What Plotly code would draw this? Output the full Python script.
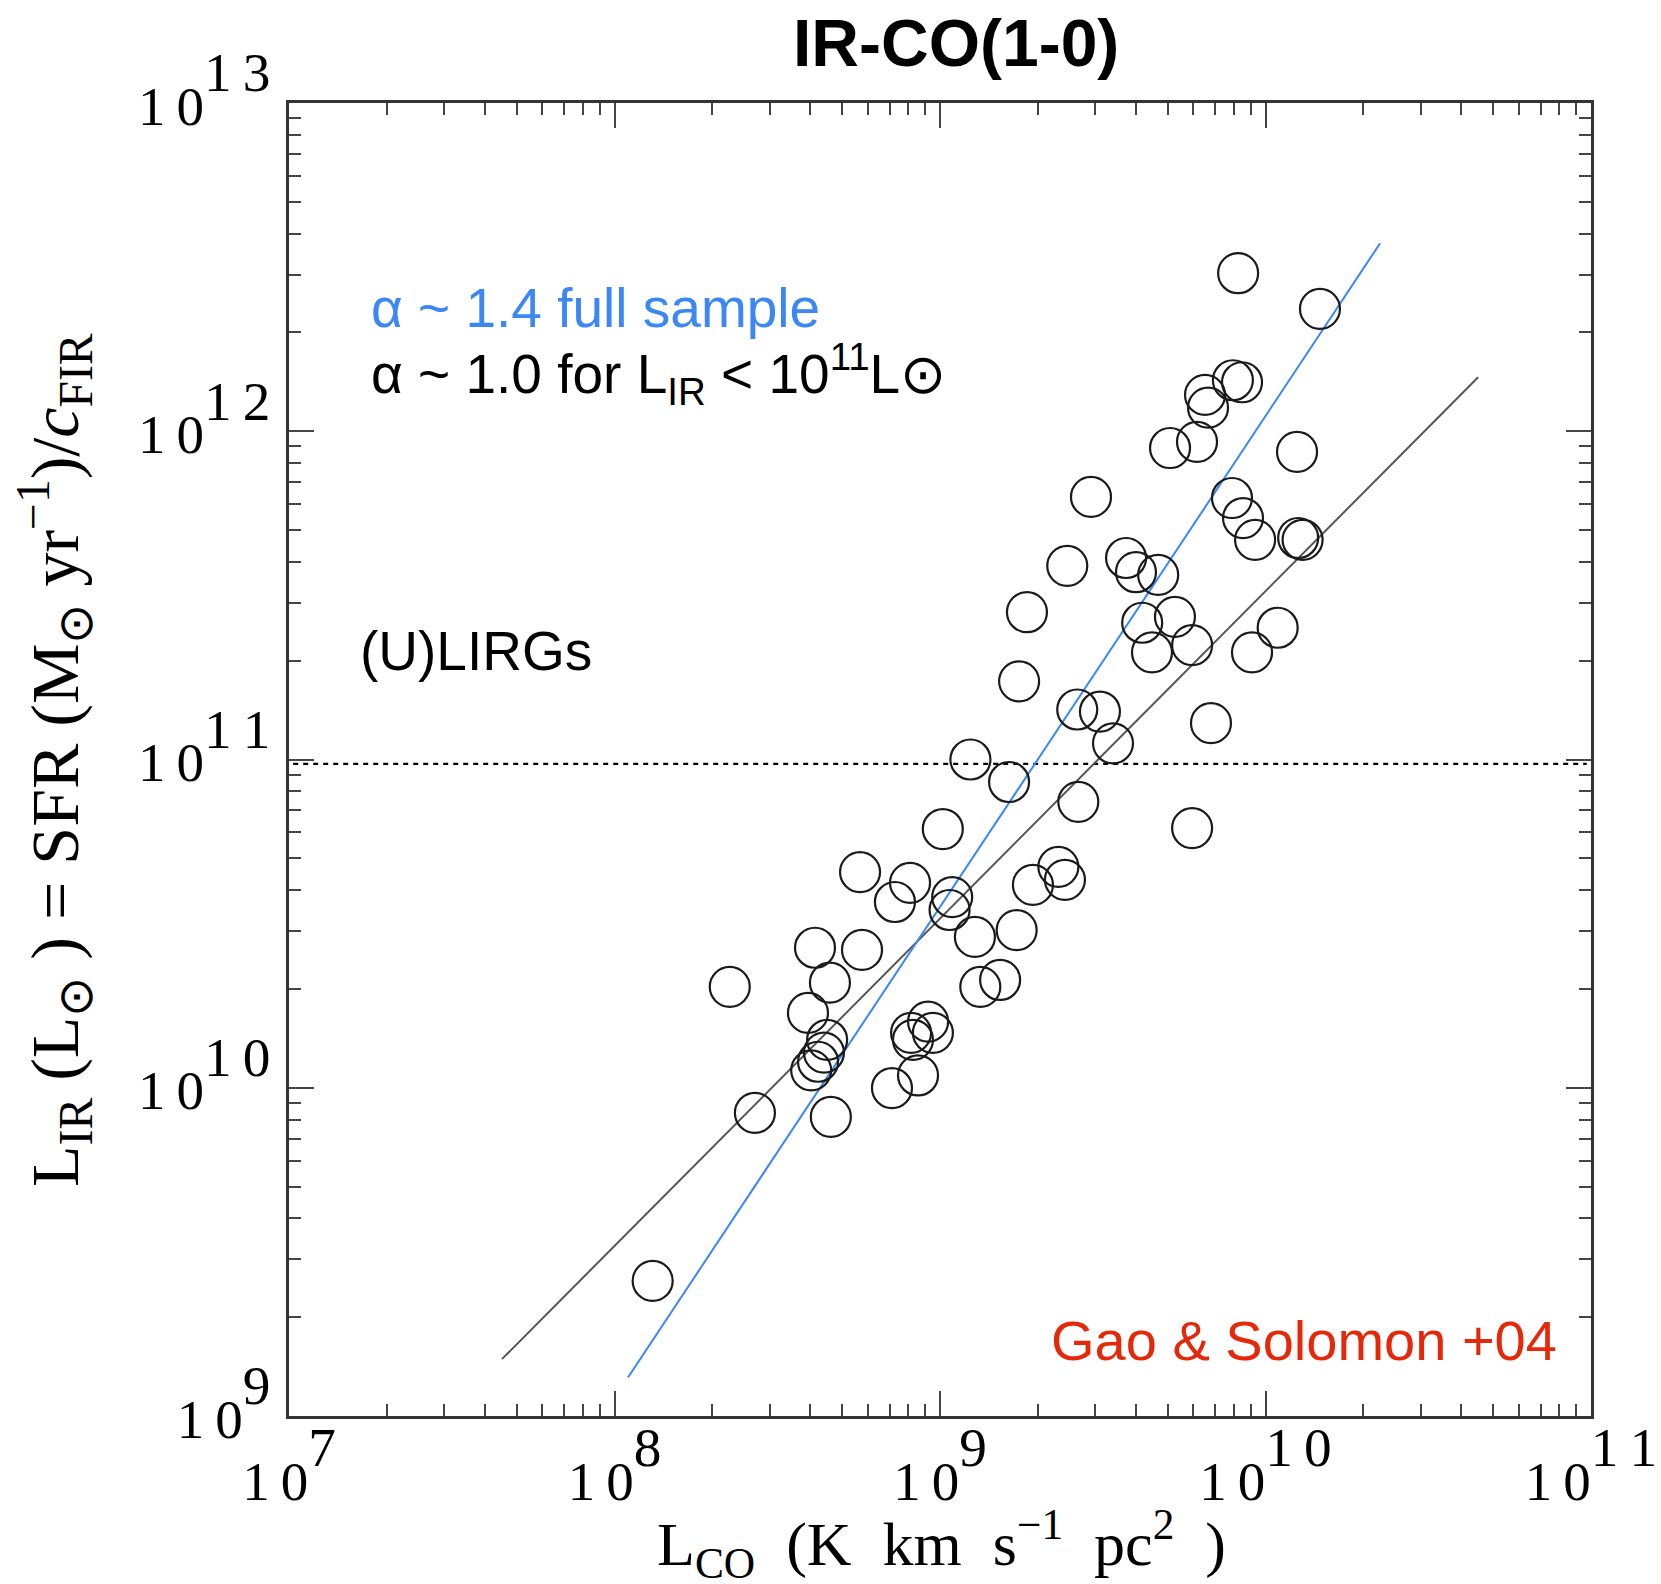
import plotly.graph_objects as go

# ---- data ----
lco = [8.24e9, 1.47e10, 6.52e9, 7.94e9, 8.47e9, 6.66e9, 5.09e9, 6.16e9, 1.25e10, 2.91e9,
       7.89e9, 8.53e9, 9.29e9, 1.26e10, 1.30e10, 2.46e9, 3.73e9, 4.00e9, 4.68e9, 1.85e9,
       4.18e9, 5.27e9, 4.48e9, 5.95e9, 1.09e10, 9.09e9, 1.75e9, 2.64e9, 3.10e9, 3.40e9,
       6.80e9, 1.24e9, 1.63e9, 2.66e9, 1.02e9, 5.95e9, 5.68e8, 8.09e8, 7.27e8, 1.09e9,
       1.07e9, 1.93e9, 2.31e9, 2.42e9, 1.28e9, 1.72e9, 4.13e8, 5.76e8, 2.26e8, 4.59e8,
       1.33e9, 1.53e9, 3.93e8, 4.50e8, 4.40e8, 4.22e8, 4.02e8, 8.15e8, 8.26e8, 9.19e8,
       9.51e8, 7.12e8, 8.56e8, 2.70e8, 4.62e8, 1.31e8]
lir = [3.03e12, 2.36e12, 1.29e12, 1.43e12, 1.41e12, 1.18e12, 8.89e11, 9.28e11, 8.65e11, 6.31e11,
       6.26e11, 5.44e11, 4.67e11, 4.73e11, 4.67e11, 3.89e11, 4.11e11, 3.72e11, 3.65e11, 2.81e11,
       2.61e11, 2.72e11, 2.12e11, 2.23e11, 2.52e11, 2.12e11, 1.73e11, 1.42e11, 1.40e11, 1.12e11,
       1.29e11, 1.00e11, 8.54e10, 7.43e10, 6.14e10, 6.18e10, 4.54e10, 4.21e10, 3.68e10, 3.81e10,
       3.48e10, 4.15e10, 4.71e10, 4.30e10, 2.88e10, 3.02e10, 2.67e10, 2.63e10, 2.03e10, 2.09e10,
       2.03e10, 2.13e10, 1.69e10, 1.40e10, 1.28e10, 1.20e10, 1.13e10, 1.47e10, 1.40e10, 1.59e10,
       1.47e10, 9.98e9, 1.09e10, 8.38e9, 8.15e9, 2.58e9]

fit10_x = [4.51e7, 4.50e10]
fit10_y = [1.49e9, 1.46e12]
fit14_x = [1.10e8, 2.25e10]
fit14_y = [1.31e9, 3.74e12]
ulirg_x = [1.03e7, 9.7e10]
ulirg_y = [9.7e10, 9.7e10]

x_exps = [7, 8, 9, 10, 11]
y_exps = [9, 10, 11, 12, 13]

BLUE = "rgb(58,135,245)"
RED = "rgb(230,40,10)"
BASE = 55           # size of "10" in tick labels
TICKFONT = 79       # sup is drawn at 70% of this -> same size as the base
THIN = "\u2009"


def spaced(s):
    return THIN.join(list(str(s)))


def tick_text(e):
    return f"<span style='font-size:{BASE}px'>{spaced(10)}</span><sup>{spaced(e)}</sup>"


fig = go.Figure()
fig.add_trace(go.Scatter(x=ulirg_x, y=ulirg_y, mode="lines",
                         line=dict(color="black", width=2.2, dash="5px,5px"), hoverinfo="skip"))
fig.add_trace(go.Scatter(x=fit10_x, y=fit10_y, mode="lines",
                         line=dict(color="#555555", width=2)))
fig.add_trace(go.Scatter(x=fit14_x, y=fit14_y, mode="lines",
                         line=dict(color=BLUE, width=2)))
fig.add_trace(go.Scatter(x=lco, y=lir, mode="markers",
                         marker=dict(symbol="circle-open", size=40, color="#1a1a1a",
                                     line=dict(width=2.2, color="#1a1a1a"))))

axis_common = dict(
    type="log", showgrid=False, zeroline=False, showline=True, mirror="allticks",
    linecolor="#333333", linewidth=2.5, automargin=False,
    ticks="inside", ticklen=25, tickwidth=2, tickcolor="#444444",
    minor=dict(ticks="inside", ticklen=12, tickwidth=2, tickcolor="#444444",
               dtick="D1", showgrid=False),
    tickfont=dict(family="Liberation Serif", size=TICKFONT, color="black"),
    tickmode="array",
)

fig.update_xaxes(**axis_common, range=[7, 11],
                 tickvals=[10.0 ** e for e in x_exps],
                 ticktext=[tick_text(e) for e in x_exps],
                 ticklabelstandoff=-14)
fig.update_yaxes(**axis_common, range=[9, 13],
                 tickvals=[10.0 ** e for e in y_exps],
                 ticktext=[tick_text(e) for e in y_exps],
                 ticklabelstandoff=0, ticklabelshift=-6)

L, R, T, B = 289, 70, 103, 168
W, H = 1661, 1584
pw, ph = W - L - R, H - T - B


def px(xp):
    return (xp - L) / pw


def py(yp):
    return (H - B - yp) / ph


annos = [
    dict(text="IR-CO(1-0)", x=px(956), y=py(43), font=dict(family="Liberation Sans", size=66,
         color="black", weight=700), xanchor="center", yanchor="middle"),
    dict(text="α ~ 1.4 full sample", x=px(369), y=py(308),
         font=dict(family="Liberation Sans", size=55, color=BLUE), xanchor="left", yanchor="middle"),
    dict(text="α ~ 1.0 for L<sub>IR</sub> < 10<sup>11</sup>L⊙", x=px(369), y=py(374),
         font=dict(family="Liberation Sans", size=55, color="black"), xanchor="left", yanchor="middle"),
    dict(text="(U)LIRGs", x=px(358), y=py(651),
         font=dict(family="Liberation Sans", size=55, color="black"), xanchor="left", yanchor="middle"),
    dict(text="Gao & Solomon +04", x=px(1559), y=py(1340),
         font=dict(family="Liberation Sans", size=56, color=RED), xanchor="right", yanchor="middle"),
    dict(text="L<sub>CO</sub>  (K  km  s<sup>−1</sup>  pc<sup>2</sup>  )", x=px(941), y=py(1543),
         font=dict(family="Liberation Serif", size=62, color="black"), xanchor="center", yanchor="middle"),
    dict(text="L<sub>IR</sub> (L<sub>⊙</sub> ) = SFR (M<sub>⊙</sub> yr<sup>−1</sup>)/<i>c</i><sub>FIR</sub>",
         x=px(54), y=py(760), textangle=-90,
         font=dict(family="Liberation Serif", size=68, color="black"), xanchor="center", yanchor="middle"),
]
for a in annos:
    a.update(xref="paper", yref="paper", showarrow=False)

fig.update_layout(
    width=W, height=H, margin=dict(l=L, r=R, t=T, b=B),
    paper_bgcolor="white", plot_bgcolor="white", showlegend=False,
    annotations=annos,
)

fig.write_html("out.html")
